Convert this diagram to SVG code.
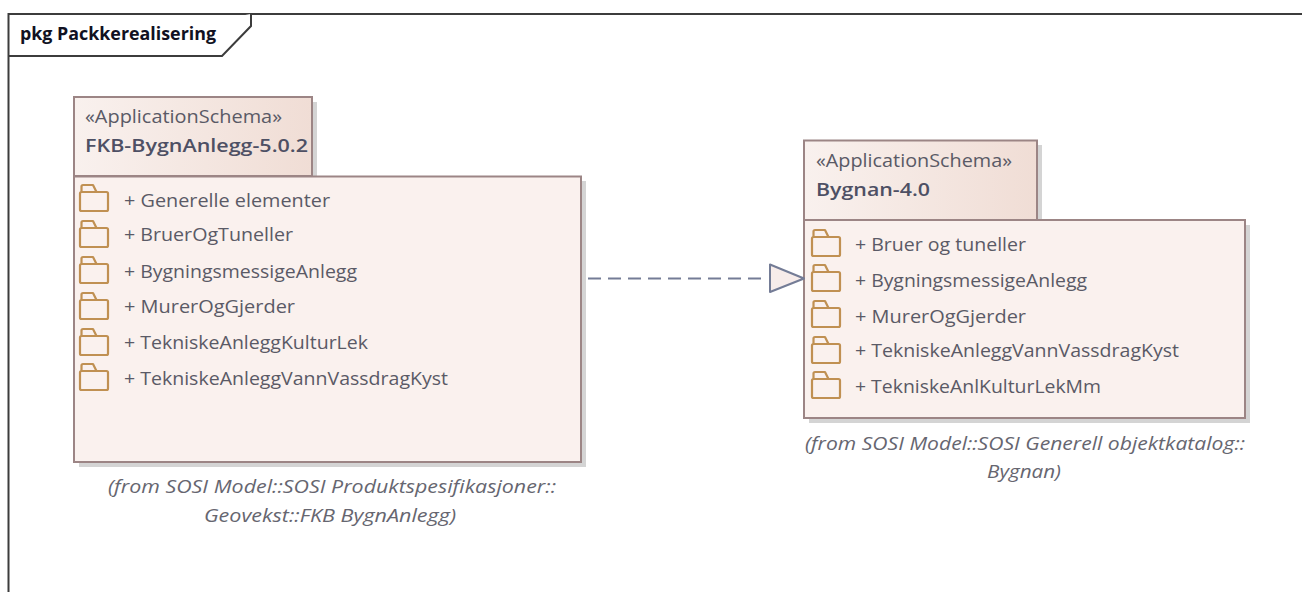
<svg xmlns="http://www.w3.org/2000/svg" width="1302" height="592" viewBox="0 0 1302 592">
<style>
text{font-family:"Open Sans","Liberation Sans",sans-serif;font-size:18px;fill:#5a5a66}
.t{font-weight:700;fill:#111122;font-size:18.500px}
.b{font-weight:600;fill:#4e5064}
.i{font-style:italic;fill:#666670;text-anchor:middle}
.box{fill:#faf1ee;stroke:#9c8585;stroke-width:2}
.sh{fill:#d4d4d4}
.fold{fill:none;stroke:#c09052;stroke-width:2.200;stroke-linejoin:round}
</style>
<defs>
<linearGradient id="g"><stop offset="0" stop-color="#f9f1ee"/><stop offset="1" stop-color="#f0ddd5"/></linearGradient>
<g id="f"><path class="fold" d="M1.500 7H26.500Q28 7 28 8.500V24.500Q28 26 26.500 26H1.500Q0 26 0 24.500V8.500Q0 7 1.500 7ZM1.500 7V1.500Q1.500 0 3 0H13L16.500 7"/></g>
</defs>
<g id="frame">
<path d="M8.500 592V14H1302" fill="none" stroke="#3c3c3c" stroke-width="2"/>
<path d="M8.500 56H222L251 26V14" fill="#fff" stroke="#3c3c3c" stroke-width="2"/>
<text class="t" x="20" y="40" textLength="196" lengthAdjust="spacingAndGlyphs">pkg Packkerealisering</text>
</g>
<g id="pkg1">
<rect class="sh" x="79" y="102" width="238" height="79"/>
<rect class="sh" x="79" y="181" width="507" height="286"/>
<rect x="74" y="97" width="238" height="79" fill="url(#g)" stroke="#9c8585" stroke-width="2"/>
<rect class="box" x="74" y="176.500" width="507" height="285.500"/>
<text x="85" y="123" textLength="197" lengthAdjust="spacingAndGlyphs">«ApplicationSchema»</text>
<text class="b" x="85" y="152" textLength="223" lengthAdjust="spacingAndGlyphs">FKB-BygnAnlegg-5.0.2</text>
<use href="#f" x="80" y="185"/><text x="124" y="207" textLength="206" lengthAdjust="spacingAndGlyphs">+ Generelle elementer</text>
<use href="#f" x="80" y="221"/><text x="124" y="241" textLength="169" lengthAdjust="spacingAndGlyphs">+ BruerOgTuneller</text>
<use href="#f" x="80" y="257"/><text x="124" y="278" textLength="233" lengthAdjust="spacingAndGlyphs">+ BygningsmessigeAnlegg</text>
<use href="#f" x="80" y="293"/><text x="124" y="313" textLength="171" lengthAdjust="spacingAndGlyphs">+ MurerOgGjerder</text>
<use href="#f" x="80" y="329"/><text x="124" y="349" textLength="244" lengthAdjust="spacingAndGlyphs">+ TekniskeAnleggKulturLek</text>
<use href="#f" x="80" y="364"/><text x="124" y="385" textLength="324" lengthAdjust="spacingAndGlyphs">+ TekniskeAnleggVannVassdragKyst</text>
<text class="i" x="332" y="493" textLength="448" lengthAdjust="spacingAndGlyphs">(from SOSI Model::SOSI Produktspesifikasjoner::</text>
<text class="i" x="330" y="522" textLength="252" lengthAdjust="spacingAndGlyphs">Geovekst::FKB BygnAnlegg)</text>
</g>
<g id="pkg2">
<rect class="sh" x="809" y="145" width="233" height="80"/>
<rect class="sh" x="809" y="225" width="441" height="198"/>
<rect x="804" y="140.500" width="233" height="79.500" fill="url(#g)" stroke="#9c8585" stroke-width="2"/>
<rect class="box" x="804" y="220" width="441" height="198"/>
<text x="816" y="167" textLength="196" lengthAdjust="spacingAndGlyphs">«ApplicationSchema»</text>
<text class="b" x="816" y="196" textLength="114" lengthAdjust="spacingAndGlyphs">Bygnan-4.0</text>
<use href="#f" x="812" y="230"/><text x="855" y="251" textLength="171" lengthAdjust="spacingAndGlyphs">+ Bruer og tuneller</text>
<use href="#f" x="812" y="265"/><text x="855" y="287" textLength="232" lengthAdjust="spacingAndGlyphs">+ BygningsmessigeAnlegg</text>
<use href="#f" x="812" y="301"/><text x="855" y="323" textLength="171" lengthAdjust="spacingAndGlyphs">+ MurerOgGjerder</text>
<use href="#f" x="812" y="337"/><text x="855" y="357" textLength="324" lengthAdjust="spacingAndGlyphs">+ TekniskeAnleggVannVassdragKyst</text>
<use href="#f" x="812" y="372"/><text x="855" y="393" textLength="246" lengthAdjust="spacingAndGlyphs">+ TekniskeAnlKulturLekMm</text>
<text class="i" x="1025" y="450" textLength="440" lengthAdjust="spacingAndGlyphs">(from SOSI Model::SOSI Generell objektkatalog::</text>
<text class="i" x="1024" y="478" textLength="74" lengthAdjust="spacingAndGlyphs">Bygnan)</text>
</g>
<g id="connectors">
<path d="M588 278.500H768" fill="none" stroke="#747c96" stroke-width="2" stroke-dasharray="13 7"/>
<path d="M770 264.500V292L804 278.500Z" fill="#f7ecea" stroke="#747c96" stroke-width="2" stroke-linejoin="round"/>
</g>
</svg>
